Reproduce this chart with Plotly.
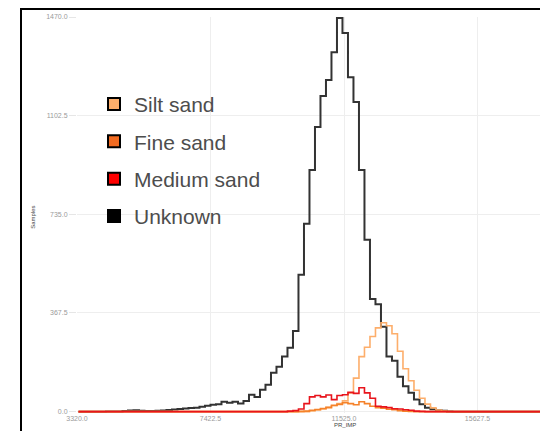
import plotly.graph_objects as go

# ---- data ----
bin_start = 3366.0
bin_width = 169.0

unknown = [0, 0, 0, 0, 0,
           1, 1, 1, 2,
           4, 5, 3,
           2, 2, 3, 4,
           6, 8, 10,
           12, 14, 15,
           18, 22,
           26, 28,
           37, 33, 37, 30, 40,
           63, 55,
           82, 100,
           145, 167, 205, 238, 300,
           510, 700, 900, 1060, 1176,
           1235, 1339, 1466, 1410, 1246,
           1153, 900, 640, 420, 400,
           316, 205, 190, 130, 95,
           70, 45, 28, 15, 9,
           5, 3, 1] + [0] * 18

silt_sand = [0] * 42 + [3, 6, 10, 15, 22, 30, 40, 70, 125, 205, 240, 280, 312,
                        331, 320, 290, 225, 160, 115, 80, 50, 28, 14, 6, 2] + [0] * 19

fine_sand = [0] * 40 + [1, 2, 5, 8, 12, 16, 24, 27, 33, 30, 26, 37, 30, 20, 15,
                        13, 9, 7, 4, 2, 1] + [0] * 25

medium_sand = [0] * 38 + [2, 4, 10, 30, 55, 60, 55, 62, 45, 60, 63, 72, 68, 89,
                          70, 50, 20, 18, 15, 11, 10, 7, 5, 2, 1] + [0] * 23

series_names = ["Silt sand", "Fine sand", "Medium sand", "Unknown"]
line_colors = ["#FDAE6B", "#F5822A", "#E8141C", "#333333"]
legend_colors = ["#FDAE6B", "#F26B21", "#FF0000", "#000000"]

x_tick_vals = [3320.0, 7422.5, 11525.0, 15627.5]
x_tick_text = ["3320.0", "7422.5", "11525.0", "15627.5"]
y_tick_vals = [0.0, 367.5, 735.0, 1102.5, 1470.0]
y_tick_text = ["0.0", "367.5", "735.0", "1102.5", "1470.0"]
x_title = "PR_IMP"
y_title = "Samples"


def step_xy(counts):
    xs = [bin_start + i * bin_width for i in range(len(counts) + 1)]
    ys = list(counts) + [counts[-1]]
    return xs, ys


fig = go.Figure()

data_by_name = {"Silt sand": silt_sand, "Fine sand": fine_sand,
                "Medium sand": medium_sand, "Unknown": unknown}
draw_order = ["Unknown", "Silt sand", "Fine sand", "Medium sand"]
for name in draw_order:
    idx = series_names.index(name)
    xs, ys = step_xy(data_by_name[name])
    fig.add_trace(go.Scatter(
        x=xs, y=ys, mode="lines", line_shape="hv",
        line=dict(color=line_colors[idx], width=2 if name == "Unknown" else 1.6),
        showlegend=False, hoverinfo="skip"))

for i, name in enumerate(series_names):
    fig.add_trace(go.Scatter(
        x=[None], y=[None], mode="markers", name=name,
        legendgroup=name,
        marker=dict(symbol="square", size=12, color=legend_colors[i],
                    line=dict(color="#000000", width=1))))

# page body has an 8px margin; lay the figure out in window pixels
OFF = 8
W, H = 548 - OFF, 431 - OFF
plot_left, plot_top, plot_bottom = 77, 17, 413.5   # window pixels
ml = plot_left - OFF
mt = plot_top - OFF
mb = (H + OFF) - plot_bottom
mr = 0
pw = W - ml - mr
ph = H - mt - mb


def px_to_paper_x(px):
    return (px - plot_left) / pw


def px_to_paper_y(py):
    return (plot_bottom - py) / ph


fig.update_layout(
    width=W, height=H,
    margin=dict(l=ml, r=mr, t=mt, b=mb, pad=0, autoexpand=False),
    paper_bgcolor="white", plot_bgcolor="white",
    font=dict(family="Liberation Sans, Arial, sans-serif"),
    showlegend=True,
    legend=dict(
        x=px_to_paper_x(94), y=px_to_paper_y(84), xanchor="left", yanchor="top",
        font=dict(size=21, color="#4d4d4d"),
        bgcolor="rgba(0,0,0,0)", tracegroupgap=7, itemsizing="constant",
        traceorder="grouped"),
    xaxis=dict(
        range=[3320, 3320 + pw * 30.73], tickvals=x_tick_vals, ticktext=x_tick_text,
        tickfont=dict(size=7, color="#9a9a9a"), showgrid=True, gridcolor="#eeeeee",
        zeroline=False, showline=False, ticks="", automargin=False),
    yaxis=dict(
        range=[-5, 1470], tickvals=y_tick_vals, ticktext=y_tick_text,
        tickfont=dict(size=7, color="#9a9a9a"), showgrid=True, gridcolor="#eeeeee",
        zeroline=False, showline=False, ticks="outside", ticklen=7, tickcolor="#e6e6e6",
        automargin=False),
    annotations=[
        dict(text=x_title, xref="paper", yref="paper",
             x=px_to_paper_x(345), y=px_to_paper_y(426), xanchor="center", yanchor="middle",
             showarrow=False, font=dict(size=6, color="#444444")),
        dict(text=y_title, xref="paper", yref="paper", textangle=-90,
             x=px_to_paper_x(33), y=px_to_paper_y(218), xanchor="center", yanchor="middle",
             showarrow=False, font=dict(size=6, color="#444444")),
    ],
    shapes=[
        dict(type="line", xref="paper", yref="paper",
             x0=px_to_paper_x(20), x1=px_to_paper_x(560),
             y0=px_to_paper_y(9), y1=px_to_paper_y(9),
             line=dict(color="#000000", width=2)),
        dict(type="line", xref="paper", yref="paper",
             x0=px_to_paper_x(21), x1=px_to_paper_x(21),
             y0=px_to_paper_y(9), y1=px_to_paper_y(440),
             line=dict(color="#000000", width=2)),
    ],
)

fig.write_html("out.html")
